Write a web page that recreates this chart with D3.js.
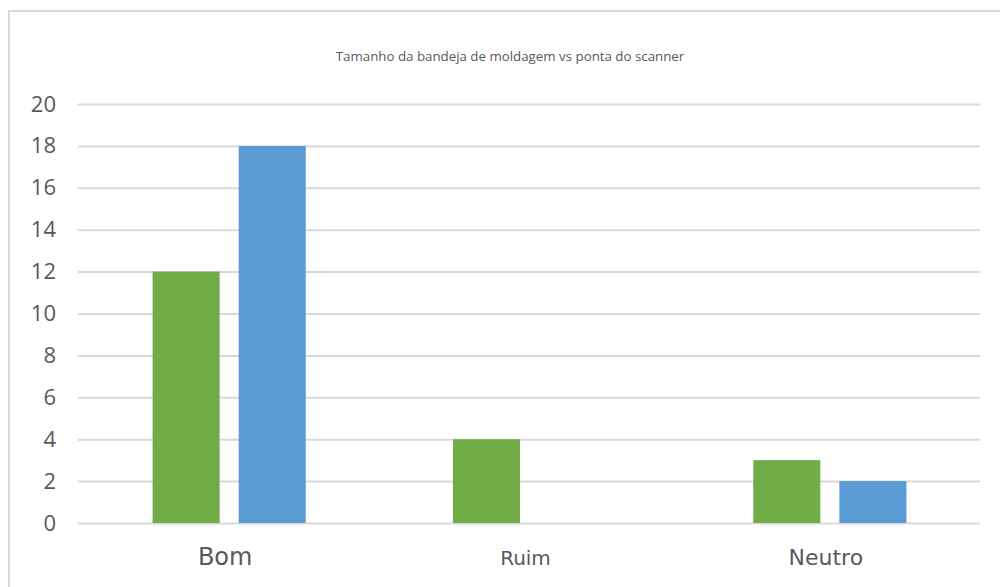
<!DOCTYPE html>
<html>
<head>
<meta charset="utf-8">
<script src="https://cdn.jsdelivr.net/npm/d3@7"></script>
<style>
  body { margin: 0; background: #fff; }
</style>
</head>
<body>
<script>
// data
var categories = ["Bom", "Ruim", "Neutro"],
    seriesNames = ["Série 1", "Série 2"],
    greenValues = [12, 4, 3],
    blueValues = [18, 0, 2],
    yTicks = [0, 2, 4, 6, 8, 10, 12, 14, 16, 18, 20],
    labelSizes = [24, 20, 22],
    title = "Tamanho da bandeja de moldagem vs ponta do scanner";

var canvasWidth = 1000,
    canvasHeight = 587,
    colors = ["#70AD47", "#5B9BD5"];

var figure = d3.select("body")
    .append("svg")
        .attr("width", canvasWidth)
        .attr("height", canvasHeight);

// chart frame
figure.append("rect")
    .attr("x", 9).attr("y", 11)
    .attr("width", 1010).attr("height", 600)
    .attr("fill", "none")
    .attr("stroke", "#d9d9d9")
    .attr("stroke-width", 2);

figure.append("text")
    .attr("x", 510).attr("y", 61)
    .attr("text-anchor", "middle")
    .attr("font-family", "Open Sans")
    .attr("font-size", 13.3)
    .attr("fill", "#595959")
    .text(title);

var x0 = d3.scaleBand()
    .domain(categories)
    .range([79, 980]);

var x1 = d3.scaleBand()
    .domain(seriesNames)
    .range([0, x0.bandwidth()])
    .paddingInner(0.221)
    .paddingOuter(0.855);

var y = d3.scaleLinear()
    .domain([0, 20])
    .range([523, 104]);

// gridlines + y labels
var yAxis = figure.append("g")
    .attr("transform", "translate(78,0)")
    .call(d3.axisLeft(y)
        .tickValues(yTicks)
        .tickSize(-902)
        .tickPadding(22));
yAxis.select(".domain").remove();
yAxis.selectAll(".tick line")
    .attr("stroke", "#d9d9d9")
    .attr("stroke-width", 2);
yAxis.selectAll(".tick text")
    .attr("font-family", "Open Sans")
    .attr("font-size", 22)
    .attr("fill", "#595959");

// bars
var rows = categories.map(function(c, i) {
    return { cat: c, values: [greenValues[i], blueValues[i]] };
});

figure.append("g")
    .selectAll("g")
    .data(rows)
    .enter()
    .append("g")
        .attr("transform", function(d) { return "translate(" + x0(d.cat) + ",0)"; })
    .selectAll("rect")
    .data(function(d) {
        return d.values.map(function(v, j) { return { s: seriesNames[j], v: v, j: j }; });
    })
    .enter()
    .append("rect")
        .attr("x", function(d) { return x1(d.s); })
        .attr("width", x1.bandwidth())
        .attr("y", function(d) { return y(d.v); })
        .attr("height", function(d) { return y(0) - y(d.v); })
        .attr("fill", function(d) { return colors[d.j]; });

// category labels
figure.append("g")
    .selectAll("text")
    .data(categories)
    .enter()
    .append("text")
        .attr("x", function(d) { return x0(d) + x0.bandwidth() / 2 - 4; })
        .attr("y", 565)
        .attr("text-anchor", "middle")
        .attr("font-family", "DejaVu Sans")
        .attr("font-size", function(d, i) { return labelSizes[i]; })
        .attr("fill", "#595959")
        .text(function(d) { return d; });
</script>
</body>
</html>
